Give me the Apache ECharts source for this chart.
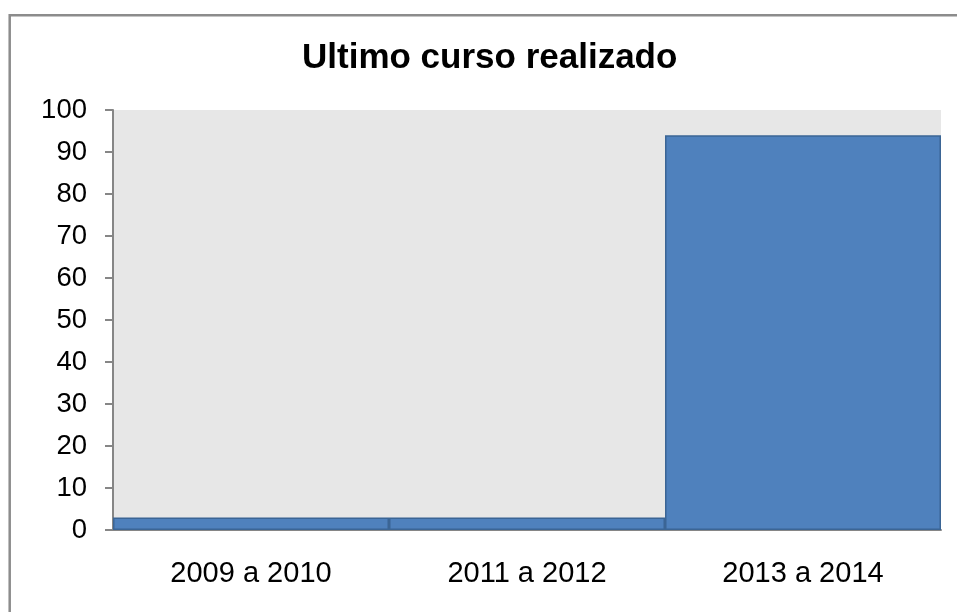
<!DOCTYPE html>
<html>
<head>
<meta charset="utf-8">
<script src="https://cdn.jsdelivr.net/npm/echarts@6/dist/echarts.min.js"></script>
<style>
  html, body { margin: 0; padding: 0; background: #fff; }
  #chart { width: 957px; height: 612px; }
</style>
</head>
<body>
<div id="chart"></div>
<script>
// datos del grafico
const titulo = 'Ultimo curso realizado'
const cursos = ['2009 a 2010', '2011 a 2012', '2013 a 2014']
const porcentajes = [3, 3, 94]
const ejeY = { min: 0, max: 100, interval: 10 }

const chart = echarts.init(document.getElementById('chart'))

chart.setOption({
  animation: false,
  textStyle: { fontFamily: 'Liberation Sans, Arial, sans-serif', color: '#000' },
  title: {
    text: titulo,
    left: 302,
    top: 41,
    padding: 0,
    textStyle: { fontSize: 35, fontWeight: 'bold', color: '#000', fontFamily: 'Liberation Sans, Arial, sans-serif' }
  },
  // marco exterior (solo se ven los lados izquierdo y superior)
  graphic: [{
    type: 'rect',
    shape: { x: 9.7, y: 15.3, width: 1200, height: 1200 },
    style: { fill: 'none', stroke: '#8c8c8c', lineWidth: 2.5 },
    silent: true
  }],
  grid: {
    left: 113, right: 16, top: 110, bottom: 82,
    show: true, backgroundColor: '#e7e7e7', borderWidth: 0
  },
  xAxis: {
    type: 'category',
    data: cursos,
    axisLine: { lineStyle: { color: '#868686', width: 2 } },
    axisTick: { show: false },
    axisLabel: { fontSize: 29, color: '#000', margin: 29 }
  },
  yAxis: {
    type: 'value',
    min: ejeY.min, max: ejeY.max, interval: ejeY.interval,
    axisLine: { show: true, lineStyle: { color: '#868686', width: 2 } },
    axisTick: { show: true, length: 8, lineStyle: { color: '#868686', width: 2 } },
    splitLine: { show: false },
    axisLabel: { fontSize: 27.5, color: '#000', margin: 26 }
  },
  series: [{
    type: 'bar',
    data: porcentajes,
    barCategoryGap: '0%',
    itemStyle: { color: '#4f81bd', borderColor: '#3b6595', borderWidth: 1.5 }
  }]
})
</script>
</body>
</html>
